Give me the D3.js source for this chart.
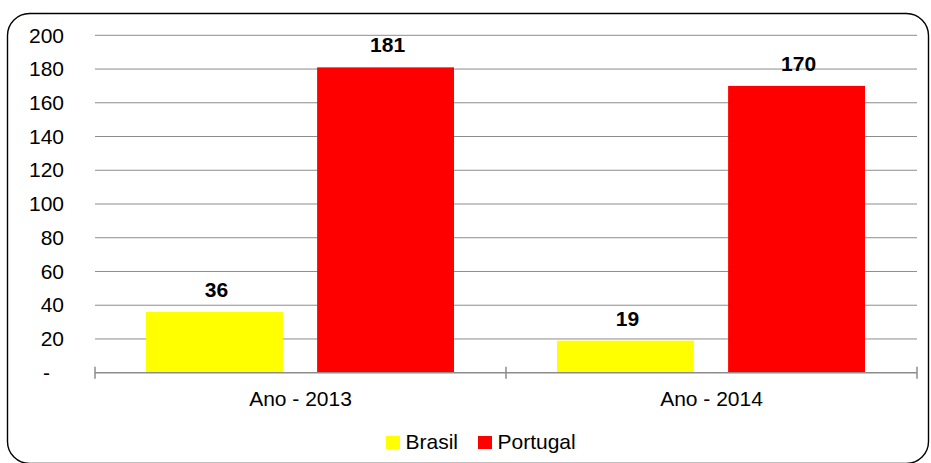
<!DOCTYPE html>
<html>
<head>
<meta charset="utf-8">
<script src="https://cdn.jsdelivr.net/npm/d3@7"></script>
<style>
  html, body { margin: 0; padding: 0; background: #fff; }
  svg { display: block; font-family: Arial, "Liberation Sans", sans-serif; }
</style>
</head>
<body>
<svg id="chart" width="931" height="463"></svg>
<script>
// Data
const categories = ["Ano - 2013", "Ano - 2014"];
const seriesNames = ["Brasil", "Portugal"];
const brasilValues = [36, 19];
const portugalValues = [181, 170];
const seriesColors = ["#FFFF00", "#FF0000"];
const yTicks = [0, 20, 40, 60, 80, 100, 120, 140, 160, 180, 200];
const yTickLabels = ["-", "20", "40", "60", "80", "100", "120", "140", "160", "180", "200"];

const seriesValues = [brasilValues, portugalValues];

const svg = d3.select("#chart");
const plot = { left: 95, right: 917, top: 35.3, bottom: 372.7 };
const FS = 21;

// Outer rounded frame
svg.append("rect")
  .attr("x", 7.5).attr("y", 13.5)
  .attr("width", 921).attr("height", 450)
  .attr("rx", 22).attr("ry", 22)
  .attr("fill", "#fff")
  .attr("stroke", "#000")
  .attr("stroke-width", 1.4);

const y = d3.scaleLinear().domain([0, 200]).range([plot.bottom, plot.top]);
const x0 = d3.scaleBand().domain(categories).range([plot.left, plot.right]).paddingInner(0).paddingOuter(0);
const x1 = d3.scaleBand().domain(seriesNames)
  .range([51, x0.bandwidth() - 52])
  .paddingInner(0.2).paddingOuter(0);

// Horizontal gridlines
svg.append("g")
  .selectAll("line")
  .data(yTicks.filter(d => d > 0))
  .join("line")
  .attr("x1", plot.left).attr("x2", plot.right)
  .attr("y1", d => y(d)).attr("y2", d => y(d))
  .attr("stroke", "#8c8c8c").attr("stroke-width", 1);

// Y tick labels
const yAxis = d3.axisLeft(y).tickValues(yTicks)
  .tickFormat((d, i) => yTickLabels[i]).tickSize(0).tickPadding(31);
const gy = svg.append("g").attr("transform", `translate(${plot.left},0)`).call(yAxis);
gy.select(".domain").remove();
gy.selectAll("text")
  .attr("font-size", FS)
  .attr("font-family", "Arial, 'Liberation Sans', sans-serif")
  .attr("fill", "#000")
  .attr("dx", d => d === 0 ? -14 : 0);

// Bars
const groups = svg.append("g").selectAll("g")
  .data(categories)
  .join("g")
  .attr("transform", d => `translate(${x0(d)},0)`);

groups.selectAll("rect")
  .data((c, ci) => seriesNames.map((s, si) => ({ s, si, v: seriesValues[si][ci] })))
  .join("rect")
  .attr("x", d => x1(d.s))
  .attr("width", x1.bandwidth())
  .attr("y", d => y(d.v))
  .attr("height", d => y(0) - y(d.v))
  .attr("fill", d => seriesColors[d.si]);

// Value labels
groups.selectAll("text.val")
  .data((c, ci) => seriesNames.map((s, si) => ({ s, si, v: seriesValues[si][ci] })))
  .join("text")
  .attr("class", "val")
  .attr("x", d => x1(d.s) + x1.bandwidth() / 2 + 2)
  .attr("y", d => y(d.v) - 15)
  .attr("text-anchor", "middle")
  .attr("font-size", FS)
  .attr("font-weight", "bold")
  .attr("fill", "#000")
  .text(d => d.v);

// X axis: baseline with category boundary ticks
const xg = svg.append("g");
xg.append("line")
  .attr("x1", plot.left).attr("x2", plot.right)
  .attr("y1", y(0)).attr("y2", y(0))
  .attr("stroke", "#8c8c8c").attr("stroke-width", 1.5);
const boundaries = [plot.left].concat(categories.map(c => x0(c) + x0.bandwidth()));
xg.selectAll("line.tick")
  .data(boundaries)
  .join("line")
  .attr("class", "tick")
  .attr("x1", d => d).attr("x2", d => d)
  .attr("y1", y(0) - 6).attr("y2", y(0) + 6)
  .attr("stroke", "#8c8c8c").attr("stroke-width", 1.5);
xg.selectAll("text")
  .data(categories)
  .join("text")
  .attr("x", d => x0(d) + x0.bandwidth() / 2)
  .attr("y", 405.5)
  .attr("text-anchor", "middle")
  .attr("font-size", FS)
  .attr("fill", "#000")
  .text(d => d);

// Legend
const legendItems = [
  { name: seriesNames[0], color: seriesColors[0], x: 386 },
  { name: seriesNames[1], color: seriesColors[1], x: 478 }
];
const lg = svg.append("g").selectAll("g").data(legendItems).join("g")
  .attr("transform", d => `translate(${d.x},0)`);
lg.append("rect")
  .attr("x", 0).attr("y", 436)
  .attr("width", 14).attr("height", 13)
  .attr("fill", d => d.color);
lg.append("text")
  .attr("x", 19.5).attr("y", 449)
  .attr("font-size", FS)
  .attr("fill", "#000")
  .text(d => d.name);
</script>
</body>
</html>
